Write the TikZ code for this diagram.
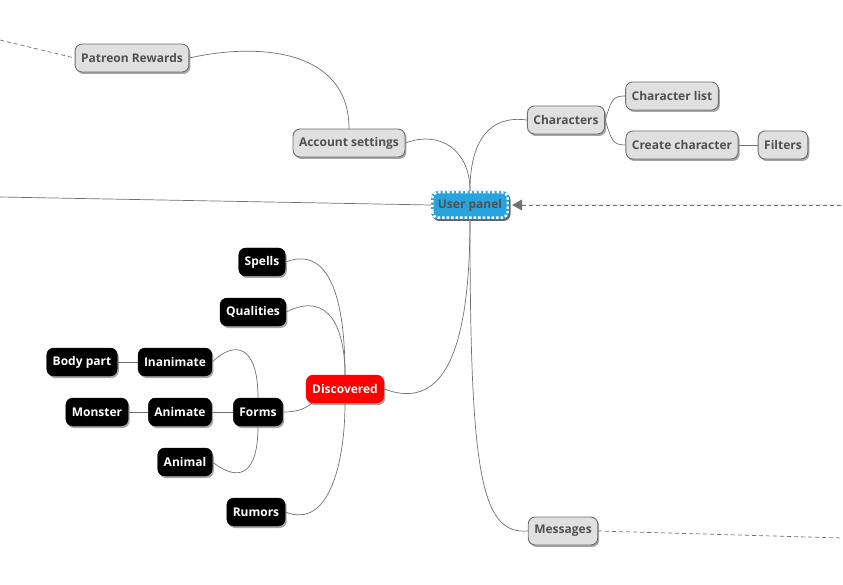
\documentclass[tikz,border=0pt]{standalone}
\usepackage{fontspec}
\setmainfont{Open Sans}
\usetikzlibrary{shadows,arrows.meta}
\definecolor{nodegray}{HTML}{E0E0E0}
\definecolor{bordergray}{HTML}{6E6E6E}
\definecolor{textgray}{HTML}{505050}
\definecolor{linegray}{HTML}{707070}
\definecolor{panelblue}{HTML}{27A4DE}
\definecolor{discred}{HTML}{FF0000}
\tikzset{
  base/.style={rounded corners=7pt, minimum height=28pt, inner xsep=6pt, inner ysep=0pt,
    font=\fontsize{12}{14}\selectfont\bfseries, anchor=center},
  graynode/.style={base, fill=nodegray, draw=bordergray, line width=0.9pt, text=textgray,
    drop shadow={shadow xshift=1.5pt, shadow yshift=-2pt, fill=black, opacity=0.35}},
  blacknode/.style={base, fill=black, draw=black, text=white,
    drop shadow={shadow xshift=1.5pt, shadow yshift=-2pt, fill=black, opacity=0.35}},
  rednode/.style={base, fill=discred, draw=discred, text=white,
    drop shadow={shadow xshift=1.5pt, shadow yshift=-2pt, fill=black, opacity=0.35}},
  conn/.style={draw=linegray, line width=0.7pt},
  dconn/.style={draw=linegray, line width=0.7pt, dash pattern=on 4pt off 3pt},
}
\begin{document}
\begin{tikzpicture}[x=1pt,y=-1pt]
\useasboundingbox (0,0) rectangle (843,585);
% connectors (drawn first, behind nodes)
\coordinate (leftend) at (0,197);
\coordinate (rightend) at (843,205);
\coordinate (topleft) at (0,40);
\coordinate (msgend) at (843,538);

% nodes
\node[graynode] (patreon) at (132,58) {Patreon Rewards};
\node[graynode] (account) at (349,143) {Account settings};
\node[graynode] (chars) at (566,120) {Characters};
\node[graynode] (charlist) at (672,96) {Character list};
\node[graynode] (create) at (682,145) {Create character};
\node[graynode] (filters) at (783,145) {Filters};
\node[base, fill=panelblue, text=textgray, minimum width=78pt,
  drop shadow={shadow xshift=1.5pt, shadow yshift=-2pt, fill=black, opacity=0.6}] (panel) at (470,205) {User panel};
\draw[white, line width=2.4pt, dash pattern=on 2.5pt off 2pt, rounded corners=6pt]
  ([xshift=1.5pt,yshift=1.5pt]panel.south west) rectangle ([xshift=-1.5pt,yshift=-1.5pt]panel.north east);
\node[graynode] (messages) at (563,531) {Messages};

\node[blacknode] (spells) at (262,262) {Spells};
\node[blacknode] (qualities) at (253,312) {Qualities};
\node[rednode] (disc) at (345,389) {Discovered};
\node[blacknode] (inanimate) at (175,362) {Inanimate};
\node[blacknode] (bodypart) at (82,362) {Body part};
\node[blacknode] (forms) at (258,412) {Forms};
\node[blacknode] (animate) at (180,412) {Animate};
\node[blacknode] (monster) at (97,412) {Monster};
\node[blacknode] (animal) at (185,462) {Animal};
\node[blacknode] (rumors) at (256,512) {Rumors};

\draw[conn] (leftend) -- (panel.west);
\draw[dconn, {Triangle[length=10pt,width=11pt]}-, shorten <=3pt, fill=linegray] (panel.east) -- (rightend);
\draw[dconn] (topleft) -- (patreon.west);
\draw[dconn] (messages.east) -- (msgend);

\draw[conn] (panel.north) .. controls (470,150) and (440,130) .. (account.east);
\draw[conn] (panel.north) .. controls (470,140) and (490,115) .. (chars.west);
\draw[conn] (patreon.east) .. controls (260,42) and (349,50) .. (account.north);
\draw[conn] (chars.east) .. controls (612,100) and (612,96) .. (charlist.west);
\draw[conn] (chars.east) .. controls (612,140) and (612,145) .. (create.west);
\draw[conn] (create.east) -- (filters.west);
\draw[conn] (panel.south) .. controls (470,360) and (440,410) .. (disc.east);
\draw[conn] (panel.south) .. controls (470,470) and (480,535) .. (messages.west);

\draw[conn] (spells.east) .. controls (330,245) and (345,300) .. (disc.north);
\draw[conn] (qualities.east) .. controls (330,290) and (345,330) .. (disc.north);
\draw[conn] (rumors.east) .. controls (330,530) and (345,460) .. (disc.south);
\draw[conn] (forms.east) .. controls (300,412) and (305,408) .. ([xshift=6pt]disc.south west);
\draw[conn] (inanimate.east) .. controls (235,340) and (258,345) .. (forms.north);
\draw[conn] (animal.east) .. controls (235,480) and (258,480) .. (forms.south);
\draw[conn] (animate.east) -- (forms.west);
\draw[conn] (monster.east) -- (animate.west);
\draw[conn] (bodypart.east) -- (inanimate.west);
\end{tikzpicture}
\end{document}
